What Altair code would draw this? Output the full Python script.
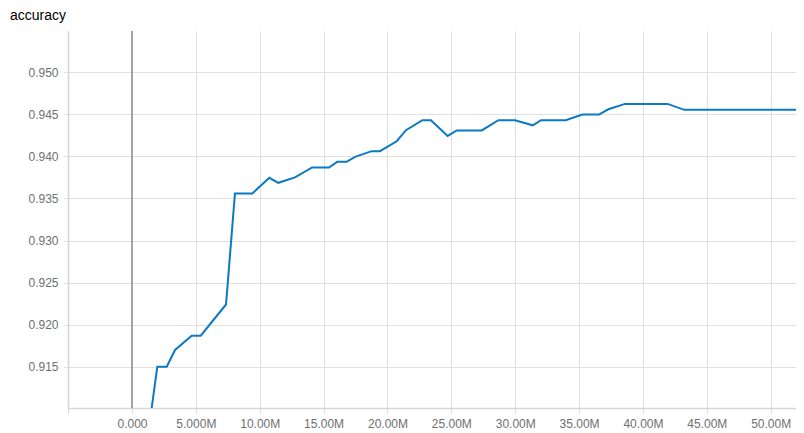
import altair as alt
import pandas as pd

steps_m = [1.30, 1.98, 2.72, 3.37, 4.67, 5.38, 7.36, 8.06, 9.42, 10.75, 11.45, 12.76,
           14.10, 15.42, 16.07, 16.80, 17.46, 18.76, 19.41, 20.72, 21.45, 22.73, 23.40,
           24.71, 25.42, 27.38, 28.68, 29.98, 31.37, 32.02, 33.95, 35.26, 36.56, 37.29,
           38.59, 41.93, 43.23, 52.60]
accuracy = [0.9074, 0.9150, 0.9150, 0.9170, 0.9187, 0.9187, 0.9224, 0.9356, 0.9356,
            0.93745, 0.93686, 0.9375, 0.93868, 0.93868, 0.93935, 0.93935, 0.93994,
            0.94062, 0.94062, 0.9418, 0.94311, 0.9443, 0.9443, 0.94243, 0.94308,
            0.94308, 0.9443, 0.9443, 0.94369, 0.9443, 0.9443, 0.94497, 0.94497,
            0.9456, 0.94624, 0.94624, 0.94553, 0.94553]
x_ticks = [-5e6, 0, 5e6, 10e6, 15e6, 20e6, 25e6, 30e6, 35e6, 40e6, 45e6, 50e6]
y_ticks = [0.915, 0.920, 0.925, 0.930, 0.935, 0.940, 0.945, 0.950]

df = pd.DataFrame({"step": [s * 1e6 for s in steps_m], "accuracy": accuracy})

x_scale = alt.Scale(domain=[-5.01e6, 51.98e6], nice=False, zero=False)
y_scale = alt.Scale(domain=[0.9101, 0.9549], nice=False, zero=False)

label_font = "Liberation Sans"

line = alt.Chart(df).mark_line(color="#0b79c3", strokeWidth=2, clip=True).encode(
    x=alt.X("step:Q", scale=x_scale,
            axis=alt.Axis(values=x_ticks, title=None, grid=True, gridColor="#e0e0e0",
                          domainColor="#d6d6d6", domainWidth=1.5, tickColor="#d6d6d6",
                          tickSize=5, labelPadding=5, labelColor="#6f6f6f",
                          labelFontSize=12, labelFont=label_font,
                          labelExpr="datum.value < 0 ? '' : format(datum.value, '.4s')")),
    y=alt.Y("accuracy:Q", scale=y_scale,
            axis=alt.Axis(values=y_ticks, title=None, grid=True, gridColor="#e0e0e0",
                          domainColor="#d6d6d6", domainWidth=1.5, tickColor="#e0e0e0",
                          tickSize=5, labelPadding=5, labelColor="#6f6f6f",
                          labelFontSize=12, labelFont=label_font, format=".3f")),
)

zero = alt.Chart(pd.DataFrame({"x": [0]})).mark_rule(color="#a3a3a3", strokeWidth=2).encode(
    x=alt.X("x:Q", scale=x_scale)
)

chart = (zero + line).properties(
    width=728,
    height=377,
    title=alt.TitleParams("accuracy", anchor="start", frame="group", fontSize=14,
                          fontWeight="normal", font=label_font, color="#000000",
                          dx=-58, offset=7),
    autosize=alt.AutoSizeParams(type="none"),
    padding={"left": 60, "top": 23, "right": 0, "bottom": 25},
).configure_view(stroke=None)

chart.save("out.html", embed_options={"renderer": "svg", "actions": False})
